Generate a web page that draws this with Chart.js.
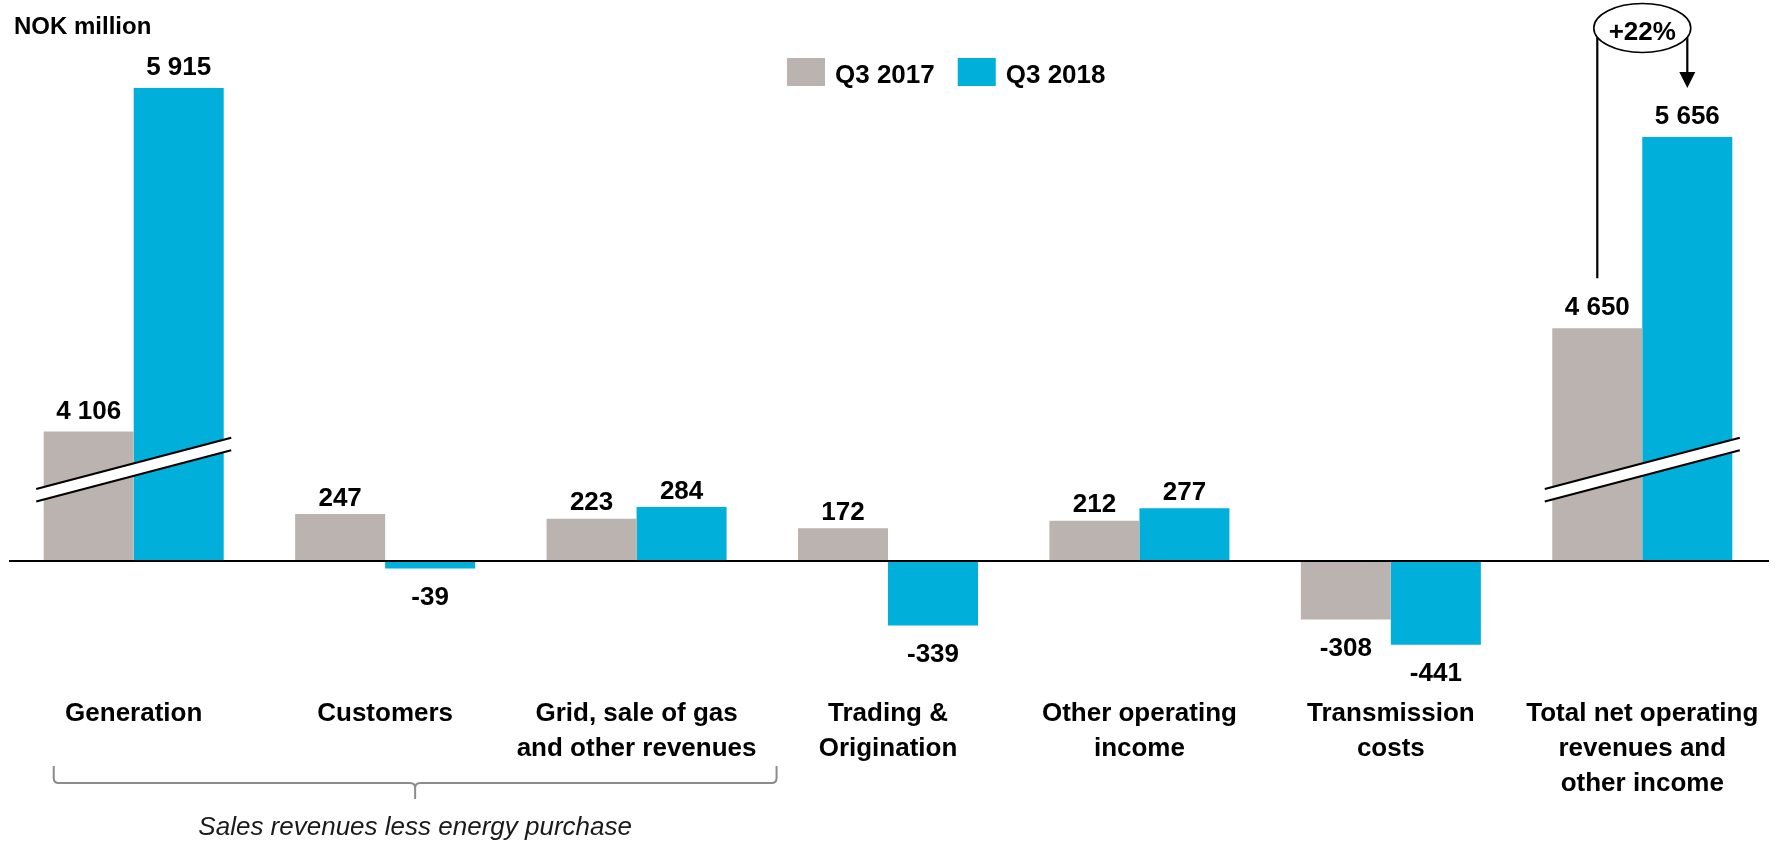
<!DOCTYPE html>
<html><head><meta charset="utf-8">
<script src="https://cdn.jsdelivr.net/npm/chart.js@4.4.1/dist/chart.umd.min.js"></script>
<style>html,body{margin:0;padding:0;background:#fff}#wrap{width:1779px;height:842px;position:relative}</style>
</head><body><div id="wrap"><canvas id="c"></canvas></div>
<script>
// ---- data ----
const categories = [
  ['Generation'],
  ['Customers'],
  ['Grid, sale of gas', 'and other revenues'],
  ['Trading &', 'Origination'],
  ['Other operating', 'income'],
  ['Transmission', 'costs'],
  ['Total net operating', 'revenues and', 'other income']
];
const seriesNames = ['Q3 2017', 'Q3 2018'];
const q3_2017 = [4106, 247, 223, 172, 212, -308, 4650];
const q3_2018 = [5915, -39, 284, -339, 277, -441, 5656];
const unitLabel = 'NOK million';
const bracketText = 'Sales revenues less energy purchase';
const bracketSpan = [0, 2];          // categories under the brace
const brokenCategories = [0, 6];     // bars drawn with an axis break
const axisBreakGap = 3425;           // NOK million cut out by the axis break
const changeCategory = 6;            // category with the % change annotation

// ---- styling ----
const FONT = "'Liberation Sans', Arial, Helvetica, sans-serif";
const COLORS = ['#BAB3B0', '#00B0DB'];
const BREAK_LOW = 379, BREAK_HIGH = 649;   // break band position (axis units) at left/right end
Chart.defaults.font.family = FONT;

function plotted(arr) {
  return arr.map((v, i) => brokenCategories.includes(i) ? v - axisBreakGap : v);
}
function fmt(v) {
  const s = Math.abs(v).toString().replace(/\B(?=(\d{3})+(?!\d))/g, ' ');
  return (v < 0 ? '-' : '') + s;
}

const overlay = {
  id: 'overlay',
  afterDatasetsDraw(chart) {
    const { ctx, chartArea, scales: { x, y } } = chart;
    const m0 = chart.getDatasetMeta(0).data, m1 = chart.getDatasetMeta(1).data;
    ctx.save();
    // zero line
    const y0 = y.getPixelForValue(0);
    ctx.strokeStyle = '#000'; ctx.lineWidth = 2;
    ctx.beginPath(); ctx.moveTo(chartArea.left + 1, y0); ctx.lineTo(chartArea.right + 1, y0); ctx.stroke();

    // axis breaks
    brokenCategories.forEach(i => {
      const b0 = m0[i], b1 = m1[i];
      const xl = b0.x - b0.width / 2 - 7.5, xr = b1.x + b1.width / 2 + 7.5;
      const yl = y.getPixelForValue(BREAK_LOW), yr = y.getPixelForValue(BREAK_HIGH);
      const t = 12.5;
      ctx.fillStyle = '#fff';
      ctx.beginPath(); ctx.moveTo(xl, yl); ctx.lineTo(xr, yr); ctx.lineTo(xr, yr + t); ctx.lineTo(xl, yl + t); ctx.closePath(); ctx.fill();
      ctx.strokeStyle = '#000'; ctx.lineWidth = 2.2;
      ctx.beginPath(); ctx.moveTo(xl, yl); ctx.lineTo(xr, yr); ctx.moveTo(xl, yl + t); ctx.lineTo(xr, yr + t); ctx.stroke();
    });

    // value labels
    ctx.fillStyle = '#000'; ctx.font = `bold 26px ${FONT}`;
    ctx.textAlign = 'center'; ctx.textBaseline = 'alphabetic';
    const raws = [q3_2017, q3_2018];
    [m0, m1].forEach((meta, di) => {
      meta.forEach((bar, i) => {
        const v = raws[di][i];
        if (v >= 0) {
          const off = brokenCategories.includes(i) ? 13 : 8.5;
          ctx.fillText(fmt(v), bar.x, bar.y - off);
        } else {
          ctx.fillText(fmt(v), bar.x, bar.y + 36.5);
        }
      });
    });

    // % change annotation
    const a0 = m0[changeCategory], a1 = m1[changeCategory];
    const cx = x.getPixelForValue(changeCategory), cy = 28, rx = 48.5, ry = 24.5;
    const edgeY = xx => cy + ry * Math.sqrt(Math.max(0, 1 - ((xx - cx) / rx) ** 2));
    ctx.strokeStyle = '#000'; ctx.lineWidth = 1.6;
    ctx.beginPath(); ctx.ellipse(cx, cy, rx, ry, 0, 0, Math.PI * 2); ctx.stroke();
    ctx.lineWidth = 2.2;
    ctx.beginPath();
    ctx.moveTo(a0.x, edgeY(a0.x)); ctx.lineTo(a0.x, a0.y - 50);
    ctx.moveTo(a1.x, edgeY(a1.x)); ctx.lineTo(a1.x, a1.y - 63);
    ctx.stroke();
    ctx.beginPath(); ctx.moveTo(a1.x - 8, a1.y - 65); ctx.lineTo(a1.x + 8, a1.y - 65); ctx.lineTo(a1.x, a1.y - 49); ctx.closePath(); ctx.fill();
    const pct = Math.round((q3_2018[changeCategory] / q3_2017[changeCategory] - 1) * 100);
    ctx.fillText((pct >= 0 ? '+' : '') + pct + '%', cx, 40);
    ctx.restore();
  },
  afterDraw(chart) {
    const { ctx, scales: { x } } = chart;
    ctx.save();
    // unit label
    ctx.fillStyle = '#000'; ctx.font = `bold 24px ${FONT}`; ctx.textAlign = 'left'; ctx.textBaseline = 'alphabetic';
    ctx.fillText(unitLabel, 14, 33.5);

    // legend
    let lx = 787;
    ctx.font = `bold 26px ${FONT}`;
    seriesNames.forEach((name, i) => {
      ctx.fillStyle = COLORS[i]; ctx.fillRect(lx, 58, 38, 28);
      ctx.fillStyle = '#000'; ctx.fillText(name, lx + 48, 83);
      lx += 48 + ctx.measureText(name).width + 23;
    });

    // brace under the first categories
    const bl = x.getPixelForValue(bracketSpan[0]) - 80, br = x.getPixelForValue(bracketSpan[1]) + 140;
    const bc = (bl + br) / 2, top = 766, by = 783, r = 5;
    ctx.strokeStyle = '#8C8C8C'; ctx.lineWidth = 2;
    ctx.beginPath();
    ctx.moveTo(bl, top); ctx.lineTo(bl, by - r); ctx.quadraticCurveTo(bl, by, bl + r, by);
    ctx.lineTo(bc - r, by); ctx.quadraticCurveTo(bc, by, bc, by + r); ctx.lineTo(bc, 799);
    ctx.moveTo(bc, by + r); ctx.quadraticCurveTo(bc, by, bc + r, by);
    ctx.lineTo(br - r, by); ctx.quadraticCurveTo(br, by, br, by - r); ctx.lineTo(br, top);
    ctx.stroke();
    ctx.fillStyle = '#1A1A1A'; ctx.font = `italic 26px ${FONT}`; ctx.textAlign = 'center';
    ctx.fillText(bracketText, bc, 835);
    ctx.restore();
  }
};

new Chart(document.getElementById('c'), {
  type: 'bar',
  data: {
    labels: categories,
    datasets: [
      { label: seriesNames[0], data: plotted(q3_2017), backgroundColor: COLORS[0], borderWidth: 0 },
      { label: seriesNames[1], data: plotted(q3_2018), backgroundColor: COLORS[1], borderWidth: 0 }
    ]
  },
  options: {
    responsive: true, maintainAspectRatio: false, animation: false,
    layout: { padding: { left: 8, right: 11, top: 19.5, bottom: 0 } },
    datasets: { bar: { categoryPercentage: 0.716, barPercentage: 1.0 } },
    plugins: { legend: { display: false }, tooltip: { enabled: false } },
    scales: {
      x: {
        grid: { display: false, drawTicks: false }, border: { display: false },
        ticks: { color: '#000', font: { size: 26, weight: 'bold', lineHeight: 35 / 26 }, padding: 2.5, maxRotation: 0, minRotation: 0, autoSkip: false },
        afterFit: s => { s.height = 148; }
      },
      y: { display: false, min: -700, max: 2850 }
    }
  },
  plugins: [overlay]
});
</script></body></html>
